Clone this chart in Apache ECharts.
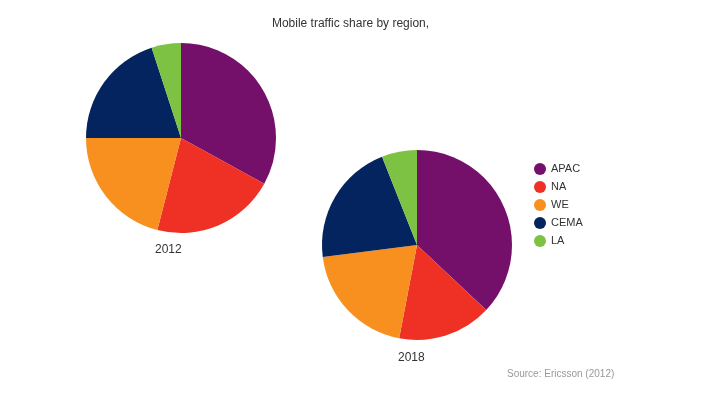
<!DOCTYPE html>
<html>
<head>
<meta charset="utf-8">
<script src="https://cdn.jsdelivr.net/npm/echarts@6/dist/echarts.min.js"></script>
<style>html,body{margin:0;padding:0;background:#fff}#c{width:701px;height:393px}</style>
</head>
<body>
<div id="c"></div>
<script>
var regions = ['APAC', 'NA', 'WE', 'CEMA', 'LA'];
var share2012 = [33, 21, 21, 20, 5];
var share2018 = [37, 16, 20, 21, 6];
var colors = ['#740f6a', '#ee3124', '#f7901e', '#03245e', '#7dc243'];

function mk(vals) {
  return regions.map(function (r, i) { return { name: r, value: vals[i] }; });
}
var chart = echarts.init(document.getElementById('c'));
var font = 'Liberation Sans, Arial, sans-serif';
chart.setOption({
  animation: false,
  color: colors,
  title: [
    { text: 'Mobile traffic share by region,', left: 'center', top: 13, textStyle: { fontSize: 12, fontWeight: 'normal', color: '#333', fontFamily: font } },
    { text: '2012', left: 150, top: 239, textStyle: { fontSize: 12, fontWeight: 'normal', color: '#333', fontFamily: font } },
    { text: '2018', left: 393, top: 347, textStyle: { fontSize: 12, fontWeight: 'normal', color: '#333', fontFamily: font } },
    { text: 'Source: Ericsson (2012)', left: 502, top: 364, textStyle: { fontSize: 10, fontWeight: 'normal', color: '#999', fontFamily: font } }
  ],
  legend: {
    orient: 'vertical', left: 529, top: 158, icon: 'circle', itemWidth: 12, itemHeight: 12, itemGap: 6,
    data: regions, textStyle: { fontSize: 11, color: '#333', fontFamily: font }
  },
  series: [
    { type: 'pie', radius: 95, center: [181, 138], startAngle: 90, clockwise: true, label: { show: false }, labelLine: { show: false }, data: mk(share2012), emphasis: { disabled: true } },
    { type: 'pie', radius: 95, center: [417, 245], startAngle: 90, clockwise: true, label: { show: false }, labelLine: { show: false }, data: mk(share2018), emphasis: { disabled: true } }
  ]
});
</script>
</body>
</html>
